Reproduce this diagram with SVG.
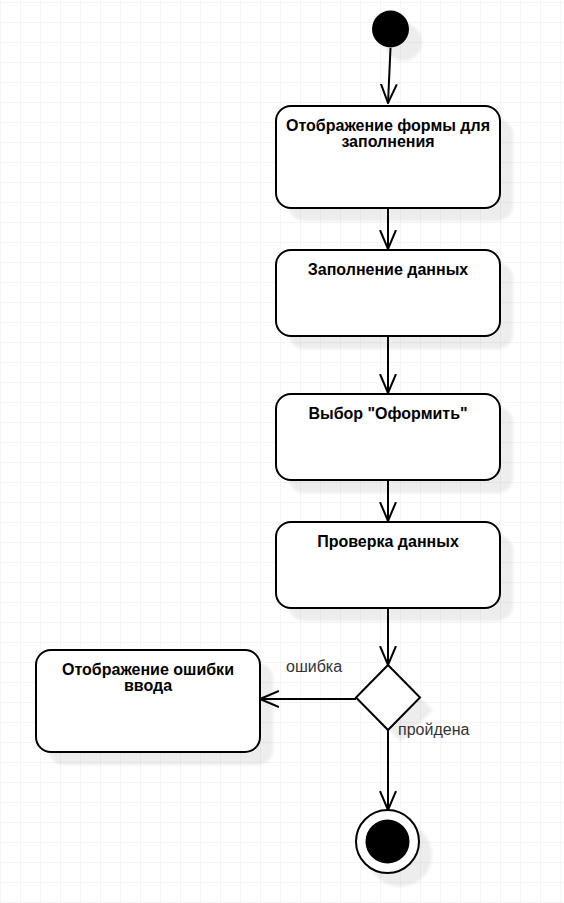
<svg xmlns="http://www.w3.org/2000/svg" width="564" height="903" viewBox="0 0 564 903">
<defs>
<pattern id="grid" width="20" height="20" patternUnits="userSpaceOnUse" x="0" y="2">
<path d="M 20 0 L 0 0 0 20" fill="none" stroke="#ebebeb" stroke-width="1"/>
</pattern>
<filter id="blur" x="-20%" y="-20%" width="140%" height="140%"><feGaussianBlur stdDeviation="1.5"/></filter>
<marker id="open" viewBox="0 0 20 20" refX="19" refY="10" markerWidth="20" markerHeight="20" markerUnits="userSpaceOnUse" orient="auto">
<path d="M 0 2 L 19 10 L 0 18" fill="none" stroke="#000" stroke-width="2"/>
</marker>
</defs>
<style>
.box{fill:#fff;stroke:#000;stroke-width:2}
.shadow{fill:#000;fill-opacity:0.07;filter:url(#blur)}
.t{font-family:"Liberation Sans",Arial,sans-serif;font-size:16px;font-weight:bold;fill:#000;text-anchor:middle}
.lbl{font-family:"Liberation Sans",Arial,sans-serif;font-size:16px;fill:#333}
.edge{fill:none;stroke:#000;stroke-width:2;marker-end:url(#open)}
</style>
<rect width="564" height="903" fill="#fff"/>
<rect width="564" height="903" fill="url(#grid)"/>
<g id="start">
<circle class="shadow" cx="403" cy="42" r="19"/>
<circle cx="390.5" cy="29" r="18.5" fill="#000"/>
</g>
<g id="n1">
<rect class="shadow" x="289" y="119" width="224" height="102" rx="15"/>
<rect class="box" x="276" y="106" width="224" height="102" rx="15"/>
<text class="t" x="388" y="131">Отображение формы для</text>
<text class="t" x="388" y="147">заполнения</text>
</g>
<g id="n2">
<rect class="shadow" x="289" y="263" width="224" height="86" rx="15"/>
<rect class="box" x="276" y="250" width="224" height="86" rx="15"/>
<text class="t" x="388" y="275">Заполнение данных</text>
</g>
<g id="n3">
<rect class="shadow" x="289" y="407" width="224" height="86" rx="15"/>
<rect class="box" x="276" y="394" width="224" height="86" rx="15"/>
<text class="t" x="388" y="419">Выбор "Оформить"</text>
</g>
<g id="n4">
<rect class="shadow" x="289" y="535" width="224" height="86" rx="15"/>
<rect class="box" x="276" y="522" width="224" height="86" rx="15"/>
<text class="t" x="388" y="547">Проверка данных</text>
</g>
<g id="err">
<rect class="shadow" x="49" y="663" width="224" height="102" rx="15"/>
<rect class="box" x="36" y="650" width="224" height="102" rx="15"/>
<text class="t" x="148" y="675">Отображение ошибки</text>
<text class="t" x="148" y="691">ввода</text>
</g>
<g id="decision">
<path class="shadow" d="M 401 678 L 433 710 L 401 742 L 369 710 Z"/>
<path d="M 388 665 L 420 697.5 L 388 730 L 356 697.5 Z" fill="#fff" stroke="#000" stroke-width="2"/>
</g>
<g id="end">
<circle class="shadow" cx="400" cy="855" r="32"/>
<circle cx="387.5" cy="841.5" r="31.5" fill="#fff" stroke="#000" stroke-width="2"/>
<circle cx="387.5" cy="841.5" r="22" fill="#000"/>
</g>
<g id="connectors">
<path class="edge" d="M 390.5 48 L 388 103"/>
<path class="edge" d="M 388 208 L 388 249"/>
<path class="edge" d="M 388 336 L 388 393"/>
<path class="edge" d="M 388 480 L 388 521"/>
<path class="edge" d="M 388 608 L 388 665"/>
<path class="edge" d="M 356 699 L 260 699"/>
<path class="edge" d="M 388 730 L 388 810"/>
<text class="lbl" x="286" y="672">ошибка</text>
<text class="lbl" x="398" y="735">пройдена</text>
</g>
</svg>
